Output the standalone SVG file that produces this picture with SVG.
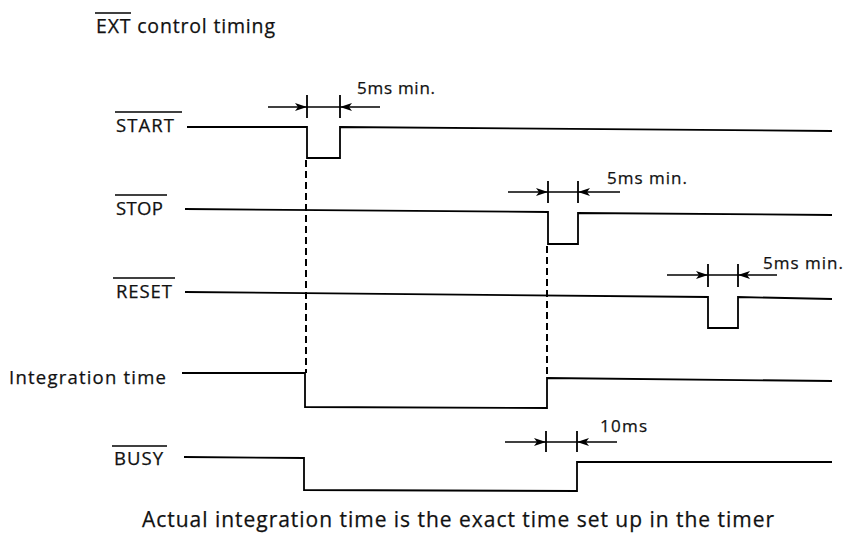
<svg xmlns="http://www.w3.org/2000/svg" width="851" height="541" viewBox="0 0 851 541">
<defs>
<marker id="ah" viewBox="0 0 12 8" refX="12" refY="4" markerWidth="12" markerHeight="8" markerUnits="userSpaceOnUse" orient="auto">
<path d="M0,0 L12,4 L0,8 L3,4 Z" fill="#000"/>
</marker>
<style>
text{font-family:"Open Sans","Noto Sans","DejaVu Sans",sans-serif;fill:#111;stroke:#111;stroke-width:0.25}
.lbl{font-size:18.5px}
.dim{font-size:17px}
.wave{fill:none;stroke:#000;stroke-width:1.8;stroke-linejoin:miter}
.ov{stroke:#000;stroke-width:1.5}
.arr{stroke:#000;stroke-width:1.5;marker-end:url(#ah)}
.dl{stroke:#000;stroke-width:1.5}
.tick{stroke:#000;stroke-width:1.8}
.dash{stroke:#000;stroke-width:2;stroke-dasharray:7 4;fill:none}
</style>
</defs>
<rect width="851" height="541" fill="#fff"/>

<g id="title">
<text x="96" y="33" style="font-size:19.5px" textLength="179" lengthAdjust="spacing">EXT control timing</text>
<line class="ov" x1="95" y1="13" x2="131" y2="13"/>
</g>

<g id="start">
<text class="lbl" x="116" y="132" textLength="58" lengthAdjust="spacing">START</text>
<line class="ov" x1="115" y1="112" x2="182" y2="112"/>
<path class="wave" d="M187 127 L307 127 L307 158 L340 158 L340 127 L832 131"/>
<line class="arr" x1="268" y1="107" x2="307" y2="107"/>
<line class="arr" x1="380" y1="107" x2="340" y2="107"/>
<line class="dl" x1="307" y1="107" x2="340" y2="107"/>
<line class="tick" x1="307" y1="95" x2="307" y2="118"/>
<line class="tick" x1="340" y1="95" x2="340" y2="118"/>
<text class="dim" x="357" y="94" textLength="78" lengthAdjust="spacing">5ms min.</text>
</g>

<g id="stop">
<text class="lbl" x="116" y="215" textLength="47" lengthAdjust="spacing">STOP</text>
<line class="ov" x1="115" y1="195" x2="167" y2="195"/>
<path class="wave" d="M185 209 L548 212 L548 244 L578 244 L578 213 L832 215"/>
<line class="arr" x1="508" y1="192" x2="548" y2="192"/>
<line class="arr" x1="620" y1="192" x2="578" y2="192"/>
<line class="dl" x1="548" y1="192" x2="578" y2="192"/>
<line class="tick" x1="548" y1="181" x2="548" y2="203"/>
<line class="tick" x1="578" y1="181" x2="578" y2="203"/>
<text class="dim" x="607" y="184" textLength="80" lengthAdjust="spacing">5ms min.</text>
</g>

<g id="reset">
<text class="lbl" x="116" y="298" textLength="56" lengthAdjust="spacing">RESET</text>
<line class="ov" x1="113" y1="278" x2="175" y2="278"/>
<path class="wave" d="M185 292 L708 297 L708 328 L738 328 L738 297 L832 299"/>
<line class="arr" x1="667" y1="275" x2="708" y2="275"/>
<line class="arr" x1="777" y1="275" x2="738" y2="275"/>
<line class="dl" x1="708" y1="275" x2="738" y2="275"/>
<line class="tick" x1="708" y1="264" x2="708" y2="287"/>
<line class="tick" x1="738" y1="264" x2="738" y2="287"/>
<text class="dim" x="763" y="269" textLength="80" lengthAdjust="spacing">5ms min.</text>
</g>

<g id="integration">
<text class="lbl" x="9" y="384" textLength="157" lengthAdjust="spacing">Integration time</text>
<path class="wave" d="M182 373 L305 373 L305 407 L547 408 L547 378 L832 381"/>
</g>

<g id="busy">
<text class="lbl" x="114" y="465" textLength="49" lengthAdjust="spacing">BUSY</text>
<line class="ov" x1="112" y1="446" x2="167" y2="446"/>
<path class="wave" d="M184 457 L304 458 L304 490 L577 491 L577 462 L832 462"/>
<line class="arr" x1="505" y1="442" x2="546" y2="442"/>
<line class="arr" x1="617" y1="442" x2="577" y2="442"/>
<line class="dl" x1="546" y1="442" x2="577" y2="442"/>
<line class="tick" x1="546" y1="431" x2="546" y2="452"/>
<line class="tick" x1="577" y1="431" x2="577" y2="452"/>
<text class="dim" x="600" y="432" textLength="47" lengthAdjust="spacing">10ms</text>
</g>

<g id="connectors">
<line class="dash" x1="306" y1="160" x2="306" y2="373"/>
<line class="dash" x1="547" y1="246" x2="547" y2="378"/>
</g>

<g id="note">
<text x="142" y="527" style="font-size:21px" textLength="632" lengthAdjust="spacing">Actual integration time is the exact time set up in the timer</text>
</g>
</svg>
